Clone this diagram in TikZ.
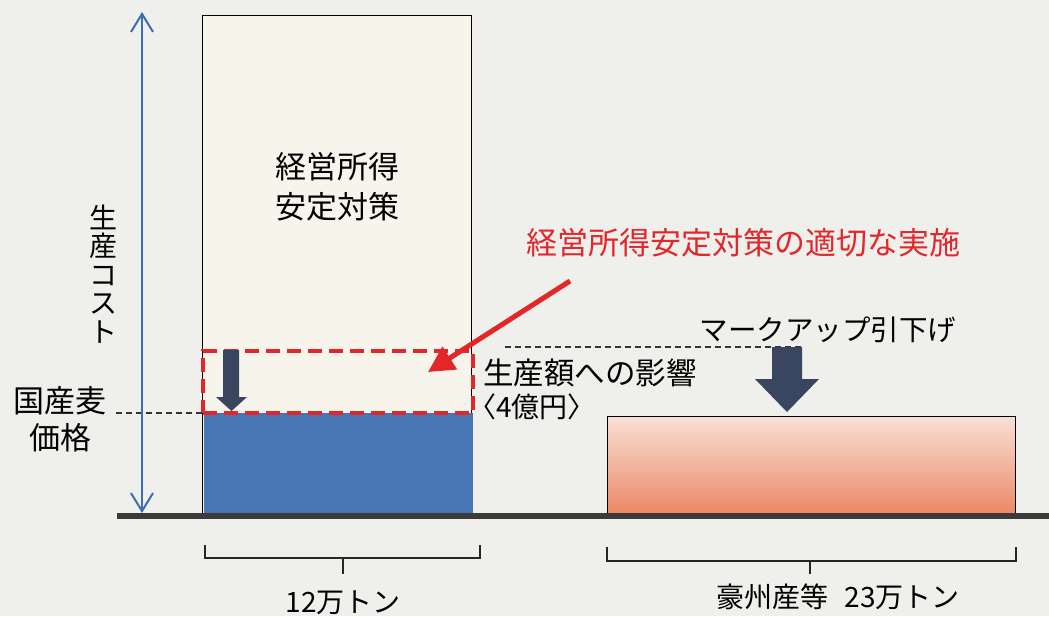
\documentclass[tikz,border=0pt]{standalone}
\usepackage{fontspec}
\setmainfont{Noto Sans CJK JP}
\newfontfamily\paltfont[RawFeature=+palt]{Noto Sans CJK JP}
\usetikzlibrary{arrows.meta}
\definecolor{bg}{HTML}{EFEFEC}
\definecolor{cream}{HTML}{F7F5EB}
\definecolor{barblue}{HTML}{4876B5}
\definecolor{axisblue}{HTML}{3D6DB3}
\definecolor{navy}{HTML}{3A4560}
\definecolor{redc}{HTML}{E2262A}
\definecolor{ground}{HTML}{3C3A3A}
\definecolor{pinktop}{HTML}{F8E0D4}
\definecolor{pinkbot}{HTML}{EB8867}
\tikzset{
  lbl/.style={inner sep=0pt, text=black, font=\fontsize{30}{38}\selectfont},
  redlbl/.style={inner sep=0pt, text=redc, font=\fontsize{31}{38}\selectfont},
  box/.style={draw=black, line width=1pt, inner sep=0pt},
  bracestyle/.style={draw=black!85, line width=2pt},
  blockarrow/.style={fill=navy, draw=none},
  guide/.style={draw=black!80, line width=1.2pt, dash pattern=on 6pt off 4pt},
}
\begin{document}
\begin{tikzpicture}[x=1pt,y=-1pt]
\fill[bg] (0,0) rectangle (1049,616);
\useasboundingbox (0,0) rectangle (1049,616);

% tall box
\node[box, fill=cream, minimum width=269pt, minimum height=501pt] (tall) at (336.5,265.5) {};
\node[lbl, align=center, font=\fontsize{31}{40}\selectfont] (tallt) at (337,187) {経営所得\\安定対策};

% blue box
\node[draw=none, fill=barblue, minimum width=269pt, minimum height=100pt, inner sep=0pt] (blue) at (338.5,463) {};

% red dashed box
\node[draw=redc, line width=4pt, dash pattern=on 14pt off 7pt, minimum width=270pt, minimum height=62pt, inner sep=0pt] (redbox) at (337.5,381.5) {};

% pink box
\node[box, top color=pinktop, bottom color=pinkbot, minimum width=408pt, minimum height=97pt] (pink) at (811,465) {};

% dashed guides
\coordinate (gL1) at (116,413);
\coordinate (gL2) at (202,413);
\draw[guide] (gL1) -- (gL2);
\coordinate (gR1) at (505,347);
\coordinate (gR2) at (803,347);
\draw[guide] (gR1) -- (gR2);

% axis arrow
\coordinate (ax1) at (142,513);
\coordinate (ax2) at (142,12);
\draw[axisblue, line width=2pt, {Straight Barb[length=18pt,width=22pt,line width=2pt]}-{Straight Barb[length=18pt,width=22pt,line width=2pt]}] (ax1) -- (ax2);

% ground line
\coordinate (g1) at (117,516);
\coordinate (g2) at (1049,516);
\draw[ground, line width=6pt] (g1) -- (g2);

% small block arrow
\fill[blockarrow] (223,350) -- (239,350) -- (239,397) -- (247,397) -- (231.5,411) -- (216,397) -- (223,397) -- cycle;

% big block arrow
\fill[blockarrow] (772,347) -- (802,347) -- (802,379) -- (819,379) -- (787,412) -- (755,379) -- (772,379) -- cycle;

% labels
\node[lbl, align=center, font=\fontsize{28}{28.5}\selectfont] (axlbl) at (103,274) {生\\産\\コ\\ス\\ト};
\node[lbl, align=center, font=\fontsize{31}{37}\selectfont] (price) at (60,419) {国産麦\\価格};
\node[redlbl] (redt) at (743,243) {経営所得安定対策の適切な実施};
\node[lbl, font=\fontsize{28.5}{34}\selectfont] (markup) at (828,330) {マークアップ引下げ};
\node[lbl, anchor=west, font=\fontsize{30.5}{36}\selectfont] (impact) at (483,373) {生産額への影響};
\node[lbl, anchor=west, font=\paltfont\fontsize{28}{34}\selectfont] (oku) at (482,407) {〈4億円〉};

% red arrow
\coordinate (ra1) at (570,281);
\draw[redc, line width=5pt, -{Triangle[length=26pt,width=26pt]}] (ra1) -- (428,372);

% braces
\draw[bracestyle] (205,545) -- (205,558) -- (480,558) -- (480,545);
\draw[bracestyle] (343,558) -- (343,574);
\draw[bracestyle] (607,547) -- (607,561) -- (1016,561) -- (1016,547);
\draw[bracestyle] (810,561) -- (810,574);
\node[lbl, font=\fontsize{28}{34}\selectfont] (n12) at (343,603) {12万トン};
\node[lbl, font=\fontsize{28}{34}\selectfont] (n23) at (838,597) {豪州産等\hspace{0.6em}23万トン};
\end{tikzpicture}
\end{document}
